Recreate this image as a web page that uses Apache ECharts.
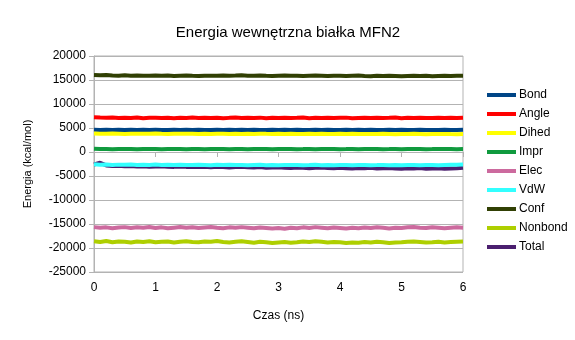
<!DOCTYPE html>
<html><head><meta charset="utf-8">
<script src="https://cdn.jsdelivr.net/npm/echarts@6/dist/echarts.min.js"></script>
<style>html,body{margin:0;padding:0;background:#fff}#c{width:575px;height:340px}</style>
</head><body><div id="c"></div>
<script>
var time = [0,0.1,0.2,0.3,0.4,0.5,0.6,0.7,0.8,0.9,
1,1.1,1.2,1.3,1.4,1.5,1.6,1.7,1.8,1.9,
2,2.1,2.2,2.3,2.4,2.5,2.6,2.7,2.8,2.9,
3,3.1,3.2,3.3,3.4,3.5,3.6,3.7,3.8,3.9,
4,4.1,4.2,4.3,4.4,4.5,4.6,4.7,4.8,4.9,
5,5.1,5.2,5.3,5.4,5.5,5.6,5.7,5.8,5.9,6];
var seriesNames = ["Bond","Angle","Dihed","Impr","Elec","VdW","Conf","Nonbond","Total"];
var bond = [4650,4600,4630,4580,4620,4570,4640,4590,4610,4560,
4620,4580,4600,4640,4570,4610,4590,4630,4560,4600,
4620,4580,4640,4590,4610,4570,4620,4600,4580,4630,
4560,4610,4590,4620,4570,4600,4640,4580,4610,4560,
4600,4630,4580,4610,4570,4620,4590,4560,4610,4580,
4630,4570,4600,4620,4560,4600,4580,4630,4590,4560,4610];
var angle = [7250,7180,7120,7200,7060,7150,7090,7180,7040,7110,
7160,7080,7130,7050,7140,7100,7170,7060,7120,7090,
7150,7030,7110,7180,7070,7130,7090,7160,7040,7120,
7080,7150,7060,7110,7170,7050,7130,7090,7140,7070,
7120,7160,7040,7100,7150,7080,7130,7060,7110,7170,
7050,7120,7090,7140,7060,7100,7150,7080,7120,7060,7110];
var dihed = [3850,3820,3790,3830,3800,3770,3820,3790,3810,3780,
3830,3790,3760,3810,3780,3820,3790,3750,3800,3770,
3810,3780,3740,3790,3760,3800,3770,3820,3780,3750,
3790,3760,3800,3770,3740,3780,3750,3790,3760,3730,
3780,3750,3790,3760,3730,3770,3740,3780,3750,3720,
3760,3740,3780,3750,3720,3760,3730,3770,3740,3720,3750];
var impr = [680,620,650,590,630,600,640,580,620,610,
650,590,620,600,640,580,610,630,590,620,
600,650,580,610,630,590,620,600,640,580,
620,600,630,590,610,640,580,620,600,630,
590,610,650,580,620,600,630,590,610,640,
580,620,600,630,590,610,650,600,620,590,630];
var elec = [-15650,-15800,-15700,-15900,-15750,-15650,-15850,-15700,-15780,-15620,
-15820,-15700,-15900,-15760,-15640,-15800,-15700,-15850,-15720,-15620,
-15780,-15880,-15700,-15800,-15650,-15760,-15900,-15720,-15820,-15950,
-15850,-15980,-15780,-15900,-15700,-15820,-15650,-15760,-15880,-15720,
-15820,-15950,-15800,-15900,-15720,-15850,-15700,-15800,-15920,-15760,
-15850,-15700,-15620,-15760,-15850,-15700,-15780,-15900,-15800,-15700,-15760];
var vdw = [-2550,-2650,-2600,-2700,-2630,-2680,-2600,-2720,-2650,-2690,
-2620,-2700,-2660,-2720,-2640,-2690,-2730,-2660,-2700,-2740,
-2680,-2710,-2650,-2730,-2690,-2750,-2700,-2680,-2740,-2710,
-2760,-2690,-2730,-2700,-2750,-2720,-2680,-2740,-2710,-2760,
-2720,-2690,-2750,-2720,-2700,-2760,-2730,-2690,-2750,-2720,
-2770,-2730,-2700,-2760,-2720,-2690,-2740,-2710,-2680,-2650,-2600];
var conf = [16050,15980,16020,15940,15910,15970,15880,15930,15860,15900,
15950,15880,15920,15840,15890,15930,15870,15820,15900,15860,
15910,15950,15880,15920,15980,15900,15860,15930,15880,15840,
15890,15920,15860,15900,15830,15880,15920,15870,15810,15860,
15900,15840,15880,15920,15850,15800,15870,15830,15880,15840,
15790,15850,15890,15820,15860,15800,15840,15880,15820,15860,15900];
var nonbond = [-18600,-18750,-18550,-18800,-18650,-18700,-18850,-18650,-18750,-18600,
-18800,-18700,-18650,-18850,-18700,-18600,-18750,-18800,-18650,-18700,
-18550,-18750,-18850,-18700,-18600,-18750,-18900,-18700,-18800,-18950,
-18850,-18750,-18900,-18800,-18650,-18750,-18600,-18700,-18850,-18750,
-18800,-18950,-18850,-18900,-18750,-18850,-18700,-18800,-18950,-18850,
-18800,-18700,-18650,-18750,-18850,-18800,-18700,-18850,-18750,-18700,-18650];
var total = [-2600,-2250,-2800,-2900,-2850,-2950,-2900,-3000,-2950,-3050,
-3000,-2950,-3050,-3100,-3000,-3100,-3150,-3050,-3100,-3200,
-3100,-3150,-3250,-3150,-3100,-3200,-3250,-3150,-3300,-3250,
-3200,-3300,-3350,-3250,-3300,-3400,-3300,-3250,-3350,-3400,
-3300,-3400,-3450,-3350,-3400,-3300,-3450,-3400,-3350,-3450,
-3500,-3400,-3450,-3350,-3500,-3450,-3400,-3500,-3450,-3400,-3300];
var yTicks = [-25000,-20000,-15000,-10000,-5000,0,5000,10000,15000,20000];
var xTicks = [0,1,2,3,4,5,6];

var values = [bond, angle, dihed, impr, elec, vdw, conf, nonbond, total];
var colors = ["#004586","#ff0000","#ffff00","#109a3e","#cc6a9e","#33ffff","#314004","#aecf00","#4b1f6f"];
var zs = [2,2,2,2,2,4,2,2,3];
var font = "Liberation Sans";
var series = seriesNames.map(function(n, i){
  return {
    name: n, type: "line", showSymbol: false, symbol: "none", z: zs[i],
    lineStyle: {width: 4, color: colors[i]}, itemStyle: {color: colors[i]},
    data: time.map(function(t, k){ return [t, values[i][k]]; }),
    animation: false
  };
});
var chart = echarts.init(document.getElementById("c"));
chart.setOption({
  backgroundColor: "#fff",
  animation: false,
  title: {text: "Energia wewnętrzna białka MFN2", left: 283, textAlign: "center", top: 20,
    textStyle: {fontFamily: font, fontSize: 15, fontWeight: "normal", color: "#000"}},
  legend: {
    orient: "vertical", left: 482, top: 84, itemWidth: 29, itemHeight: 4, itemGap: 7,
    icon: "rect",
    textStyle: {fontFamily: font, fontSize: 12, color: "#000", padding: [0,0,0,-2]},
    data: seriesNames
  },
  grid: {left: 94, right: 112, top: 56, bottom: 68, show: true, borderColor: "#b3b3b3", borderWidth: 1},
  xAxis: {
    type: "value", min: xTicks[0], max: xTicks[xTicks.length-1], interval: 1,
    name: "Czas (ns)", nameLocation: "middle", nameGap: 38,
    nameTextStyle: {fontFamily: font, fontSize: 12, color: "#000"},
    axisLine: {lineStyle: {color: "#b3b3b3"}},
    axisTick: {show: true, length: 5, lineStyle: {color: "#b3b3b3"}},
    axisLabel: {fontFamily: font, fontSize: 12, color: "#000", margin: 10},
    splitLine: {show: false}
  },
  yAxis: {
    type: "value", min: yTicks[0], max: yTicks[yTicks.length-1], interval: 5000,
    name: "Energia (kcal/mol)", nameLocation: "middle", nameGap: 61, nameRotate: 90,
    nameTextStyle: {fontFamily: font, fontSize: 11, color: "#000"},
    axisLine: {show: true, lineStyle: {color: "#b3b3b3"}},
    axisTick: {show: true, length: 5, lineStyle: {color: "#b3b3b3"}},
    axisLabel: {fontFamily: font, fontSize: 12, color: "#000", margin: 8,
      formatter: function(v){ return String(v); }},
    splitLine: {show: true, lineStyle: {color: "#b3b3b3", width: 1}}
  },
  series: series
});
</script></body></html>
